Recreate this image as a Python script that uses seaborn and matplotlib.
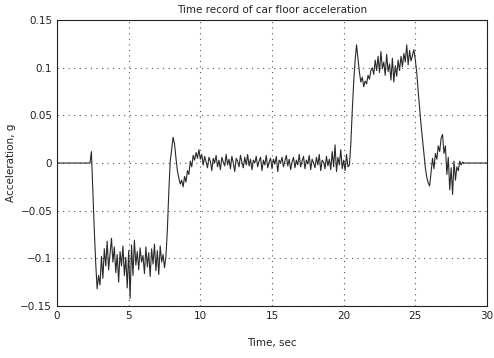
# time record of car floor acceleration (0.1 s steps)
import numpy as np
import pandas as pd
import seaborn as sns
import matplotlib.pyplot as plt

dt = 0.1
accel = (
    [0.0] * 20
    # t = 2.0 .. 2.9
    + [0, 0, 0, 0, 0.012, -0.03, -0.07, -0.105, -0.132, -0.118]
    + [-0.128, -0.098, -0.121, -0.09, -0.108, -0.082, -0.112, -0.095, -0.079, -0.104]
    + [-0.088, -0.115, -0.096, -0.125, -0.093, -0.108, -0.087, -0.118, -0.099, -0.131]
    + [-0.092, -0.142, -0.086, -0.118, -0.081, -0.107, -0.093, -0.112, -0.089, -0.104]
    + [-0.097, -0.116, -0.088, -0.109, -0.094, -0.119, -0.09, -0.106, -0.085, -0.113]
    + [-0.092, -0.117, -0.087, -0.104, -0.096, -0.11, -0.098, -0.07, -0.03, 0.002]
    # t = 8.0 ..
    + [0.015, 0.027, 0.02, 0.005, -0.008, -0.016, -0.022, -0.018, -0.025, -0.014]
    + [-0.02, -0.008, -0.012, 0.002, -0.004, 0.008, 0.003, 0.011, 0.005, 0.014]
    + [0.004, 0.009, -0.002, 0.007, 0.001, -0.005, 0.006, 0.002, -0.008, 0.005]
    + [0.0, 0.008, -0.004, 0.003, -0.007, 0.006, 0.001, -0.003, 0.009, -0.002]
    + [0.004, -0.006, 0.007, 0.0, -0.009, 0.005, 0.002, -0.004, 0.008, 0.001]
    + [-0.005, 0.006, -0.002, 0.009, -0.003, 0.004, -0.007, 0.003, 0.0, 0.007]
    + [-0.004, 0.002, 0.006, -0.008, 0.003, -0.002, 0.008, -0.005, 0.001, 0.005]
    + [-0.006, 0.004, -0.001, 0.007, -0.009, 0.003, 0.0, 0.006, -0.004, 0.002]
    + [0.008, -0.003, 0.004, -0.007, 0.001, 0.006, -0.005, 0.003, -0.002, 0.009]
    + [-0.004, 0.002, 0.007, -0.006, 0.003, -0.001, 0.008, -0.007, 0.004, 0.0]
    + [-0.005, 0.006, -0.002, 0.009, -0.008, 0.003, 0.001, -0.006, 0.007, -0.003]
    + [0.004, -0.007, 0.012, -0.004, 0.019, -0.009, 0.006, -0.002, 0.014, -0.006]
    # t = 20.0 ..
    + [0.003, -0.008, 0.009, -0.004, -0.002, 0.02, 0.055, 0.085, 0.108, 0.124]
    + [0.11, 0.095, 0.085, 0.09, 0.08, 0.086, 0.083, 0.092, 0.088, 0.097]
    + [0.1, 0.093, 0.108, 0.097, 0.112, 0.095, 0.117, 0.099, 0.106, 0.092]
    + [0.114, 0.096, 0.104, 0.087, 0.11, 0.085, 0.102, 0.091, 0.108, 0.097]
    + [0.112, 0.101, 0.115, 0.106, 0.124, 0.103, 0.118, 0.107, 0.113, 0.119]
    + [0.108, 0.095, 0.075, 0.057, 0.04, 0.025, 0.01, -0.005, -0.015, -0.021]
    + [-0.024, -0.01, 0.005, -0.006, 0.01, 0.004, 0.018, 0.012, 0.026, 0.03]
    + [0.01, 0.018, -0.012, 0.006, -0.028, -0.005, -0.033, 0.002, -0.018, -0.004]
    + [-0.008, 0.002, -0.002, 0.001, 0.0, 0.0, 0.0, 0.0, 0.0, 0.0]
    + [0.0] * 11
)
xticks = [0, 5, 10, 15, 20, 25, 30]
yticks = [-0.15, -0.1, -0.05, 0, 0.05, 0.1, 0.15]
ytick_labels = ['\u22120.15', '\u22120.1', '\u22120.05', '0', '0.05', '0.1', '0.15']

df = pd.DataFrame({'time': np.arange(len(accel)) * dt, 'accel': accel})

sns.set_style('white')
plt.rcParams['font.family'] = ['DejaVu Sans']
plt.rcParams['font.size'] = 7.5

fig = plt.figure(figsize=(4.94, 3.58), dpi=100)
ax = fig.add_axes([0.1154, 0.1453, 0.8704, 0.7987])
sns.lineplot(data=df, x='time', y='accel', ax=ax, color='#2a2a2a', linewidth=0.8)

ax.set_xlim(0, 30)
ax.set_ylim(-0.15, 0.15)
ax.set_xticks(xticks)
ax.set_yticks(yticks)
ax.set_yticklabels(ytick_labels)
ax.grid(True, linestyle=(0, (1, 4)), color='#555555', linewidth=0.8)
ax.tick_params(direction='in', length=3, color='#333333', labelcolor='#222222', labelsize=7.5)
for s in ax.spines.values():
    s.set_color('#222222')
    s.set_linewidth(0.8)

ax.set_title('Time record of car floor acceleration', fontsize=7.5, color='#222222', pad=5)
ax.set_xlabel('Time, sec', fontsize=7.5, color='#222222', labelpad=12)
ax.set_ylabel('Acceleration, g', fontsize=7.5, color='#222222', labelpad=3)

plt.savefig('out.png', dpi=100)
